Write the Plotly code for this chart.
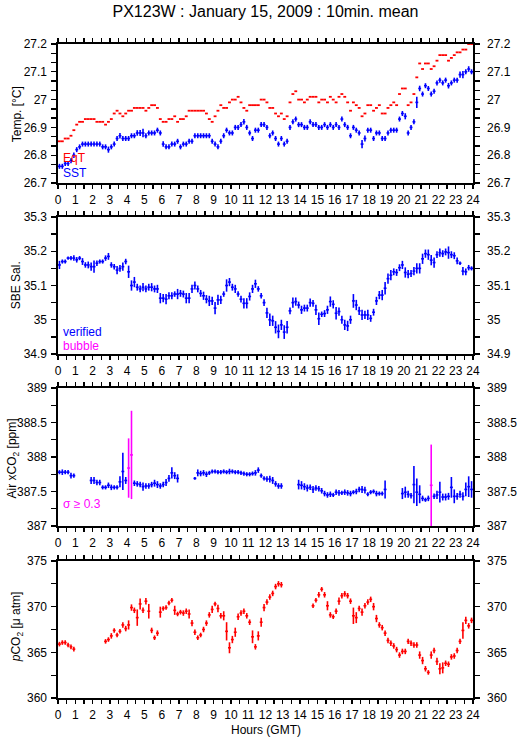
import plotly.graph_objects as go

# ---------------- data (10-minute means, 144 per day) ----------------
N = 144
hours = [(i + 0.5) / 6.0 for i in range(N)]

eqt = [26.85, 26.85, 26.86, 26.86, 26.87, 26.89, 26.91, 26.92, 26.92, 26.93,
       26.93, 26.93, 26.93, 26.92, 26.92, 26.92, 26.91, 26.92, 26.93, 26.95,
       26.96, 26.95, 26.94, 26.95, 26.96, 26.96, 26.97, 26.97, 26.97, 26.97,
       26.96, 26.97, 26.98, 26.98, 26.97, 26.93, 26.92, 26.92, 26.93, 26.93,
       26.94, 26.92, 26.93, 26.93, 26.94, 26.96, 26.96, 26.96, 26.96, 26.96,
       26.96, 26.95, 26.93, 26.92, 26.94, 26.96, 26.98, 26.97, 26.97, 26.99,
       27.00, 27.00, 27.01, 26.99, 26.97, 26.96, 26.98, 26.98, 26.98, 26.98,
       27.00, 27.00, 26.99, 26.97, 26.97, 26.95, 26.94, 26.95, 26.93, 26.94,
       26.99, 27.02, 27.03, 27.00, 27.00, 26.99, 27.00, 27.01, 27.01, 27.01,
       26.99, 27.00, 27.00, 26.99, 27.01, 27.00, 26.99, 27.01, 27.02, 27.01,
       26.99, 26.96, 26.99, 26.98, 26.97, 26.94, 26.95, 26.98, 26.98, 26.96,
       26.97, 26.98, 26.95, 26.95, 26.97, 26.98, 26.99, 26.98, 27.02, 27.04,
       27.04, 26.98, 26.99, 27.02, 27.08, 27.13, 27.11, 27.13, 27.13, 27.11,
       27.12, 27.14, 27.16, 27.16, 27.16, 27.14, 27.15, 27.16, 27.17, 27.17,
       27.18, 27.18, 27.20, 27.20]

sst = [26.76, 26.76, 26.77, 26.77, 26.78, 26.80, 26.82, 26.83, 26.84, 26.84,
       26.84, 26.84, 26.84, 26.84, 26.84, 26.83, 26.83, 26.82, 26.83, 26.84,
       26.86, 26.87, 26.86, 26.86, 26.86, 26.87, 26.87, 26.88, 26.88, 26.88,
       26.87, 26.88, 26.88, 26.88, 26.89, 26.88, 26.84, 26.83, 26.83, 26.84,
       26.84, 26.85, 26.83, 26.84, 26.84, 26.85, 26.85, 26.87, 26.87, 26.87,
       26.87, 26.87, 26.87, 26.85, 26.84, 26.83, 26.85, 26.87, 26.89, 26.88,
       26.88, 26.90, 26.90, 26.91, 26.92, 26.90, 26.88, 26.86, 26.89, 26.89,
       26.91, 26.91, 26.90, 26.87, 26.88, 26.86, 26.84, 26.86, 26.84, 26.85,
       26.90, 26.92, 26.93, 26.91, 26.91, 26.90, 26.90, 26.92, 26.91, 26.91,
       26.90, 26.90, 26.91, 26.90, 26.91, 26.90, 26.91, 26.90, 26.93, 26.91,
       26.90, 26.87, 26.90, 26.89, 26.88, 26.84, 26.86, 26.89, 26.89, 26.86,
       26.88, 26.88, 26.86, 26.86, 26.88, 26.89, 26.89, 26.89, 26.93, 26.95,
       26.94, 26.88, 26.90, 26.92, 26.99, 27.04, 27.02, 27.05, 27.04, 27.02,
       27.03, 27.06, 27.07, 27.06, 27.07, 27.05, 27.06, 27.07, 27.07, 27.09,
       27.09, 27.10, 27.11, 27.10]

sst_sd = [0.009, 0.009, 0.009, 0.009, 0.009, 0.010, 0.009, 0.009, 0.009, 0.009,
          0.009, 0.009, 0.009, 0.009, 0.009, 0.009, 0.009, 0.011, 0.009, 0.009,
          0.009, 0.010, 0.009, 0.009, 0.009, 0.009, 0.009, 0.010, 0.011, 0.015,
          0.009, 0.009, 0.009, 0.009, 0.009, 0.009, 0.010, 0.009, 0.009, 0.009,
          0.009, 0.009, 0.009, 0.009, 0.009, 0.009, 0.009, 0.009, 0.009, 0.009,
          0.009, 0.009, 0.009, 0.009, 0.009, 0.009, 0.009, 0.009, 0.009, 0.009,
          0.009, 0.009, 0.009, 0.009, 0.010, 0.009, 0.009, 0.009, 0.009, 0.009,
          0.009, 0.009, 0.009, 0.009, 0.009, 0.009, 0.009, 0.009, 0.009, 0.009,
          0.009, 0.009, 0.009, 0.009, 0.009, 0.009, 0.009, 0.009, 0.009, 0.009,
          0.009, 0.009, 0.009, 0.009, 0.009, 0.009, 0.009, 0.009, 0.009, 0.009,
          0.009, 0.009, 0.009, 0.009, 0.009, 0.015, 0.011, 0.009, 0.009, 0.009,
          0.009, 0.009, 0.009, 0.009, 0.009, 0.009, 0.009, 0.009, 0.009, 0.009,
          0.011, 0.009, 0.009, 0.009, 0.020, 0.010, 0.009, 0.009, 0.009, 0.009,
          0.009, 0.009, 0.009, 0.009, 0.009, 0.010, 0.009, 0.009, 0.009, 0.011,
          0.013, 0.009, 0.010, 0.009]

sal = [35.160, 35.170, 35.170, 35.180, 35.180, 35.180, 35.175, 35.180, 35.170, 35.160,
       35.160, 35.155, 35.155, 35.165, 35.170, 35.170, 35.180, 35.185, 35.160, 35.155,
       35.145, 35.150, 35.155, 35.170, 35.140, 35.100, 35.110, 35.095, 35.090, 35.095,
       35.090, 35.095, 35.095, 35.090, 35.090, 35.063, 35.063, 35.060, 35.070, 35.070,
       35.075, 35.075, 35.077, 35.075, 35.063, 35.063, 35.090, 35.100, 35.090, 35.077,
       35.070, 35.060, 35.055, 35.055, 35.034, 35.058, 35.058, 35.075, 35.100, 35.110,
       35.095, 35.090, 35.075, 35.060, 35.048, 35.048, 35.068, 35.090, 35.105, 35.090,
       35.070, 35.050, 35.020, 35.000, 34.997, 34.978, 34.966, 34.985, 34.964, 34.978,
       35.026, 35.050, 35.053, 35.043, 35.029, 35.034, 35.034, 35.050, 35.048, 35.029,
       35.003, 35.016, 35.018, 35.029, 35.053, 35.045, 35.019, 35.024, 35.000, 34.985,
       34.982, 35.000, 35.055, 35.043, 35.026, 35.014, 35.014, 35.014, 35.004, 35.022,
       35.055, 35.072, 35.072, 35.092, 35.120, 35.130, 35.140, 35.138, 35.152, 35.160,
       35.138, 35.133, 35.135, 35.142, 35.150, 35.150, 35.178, 35.193, 35.190, 35.174,
       35.167, 35.190, 35.196, 35.193, 35.198, 35.196, 35.190, 35.187, 35.172, 35.165,
       35.142, 35.140, 35.152, 35.150]

sal_sd = [0.012, 0.006, 0.006, 0.005, 0.006, 0.008, 0.008, 0.006, 0.010, 0.008,
          0.010, 0.012, 0.018, 0.008, 0.006, 0.006, 0.008, 0.010, 0.008, 0.008,
          0.012, 0.010, 0.012, 0.008, 0.018, 0.015, 0.015, 0.010, 0.010, 0.012,
          0.010, 0.010, 0.012, 0.010, 0.012, 0.015, 0.012, 0.015, 0.010, 0.010,
          0.008, 0.015, 0.010, 0.010, 0.015, 0.015, 0.012, 0.012, 0.010, 0.010,
          0.012, 0.012, 0.015, 0.012, 0.018, 0.015, 0.012, 0.008, 0.018, 0.012,
          0.010, 0.012, 0.008, 0.010, 0.015, 0.015, 0.012, 0.012, 0.012, 0.008,
          0.008, 0.010, 0.015, 0.018, 0.015, 0.018, 0.020, 0.015, 0.020, 0.018,
          0.010, 0.015, 0.012, 0.010, 0.012, 0.010, 0.010, 0.012, 0.010, 0.015,
          0.018, 0.008, 0.010, 0.012, 0.015, 0.012, 0.018, 0.012, 0.012, 0.015,
          0.015, 0.012, 0.020, 0.015, 0.012, 0.015, 0.012, 0.015, 0.010, 0.010,
          0.012, 0.012, 0.015, 0.018, 0.015, 0.015, 0.010, 0.010, 0.010, 0.012,
          0.015, 0.012, 0.010, 0.012, 0.015, 0.015, 0.015, 0.012, 0.015, 0.015,
          0.015, 0.010, 0.012, 0.010, 0.010, 0.018, 0.010, 0.010, 0.010, 0.005,
          0.012, 0.010, 0.008, 0.006]

G = None  # gap (standards / no data)
xco2 = [387.78, 387.78, 387.78, 387.78, 387.73, 387.73, G, G, G, G,
        G, 387.66, 387.66, 387.63, 387.63, 387.56, 387.56, 387.59, 387.56, 387.56,
        387.56, 387.64, 387.79, 387.66, 387.84, 388.03, 387.62, 387.61, 387.60, 387.57,
        387.58, 387.58, 387.60, 387.62, 387.60, 387.58, 387.60, 387.63, 387.69, 387.77,
        387.73, 387.69, G, G, G, G, G, 387.69, 387.77, 387.76,
        387.77, 387.75, 387.77, 387.79, 387.79, 387.78, 387.78, 387.79, 387.78, 387.79,
        387.79, 387.78, 387.78, 387.77, 387.76, 387.75, 387.75, 387.76, 387.77, 387.81,
        387.73, 387.69, 387.68, 387.68, 387.66, 387.61, 387.58, 387.58, G, G,
        G, G, G, 387.60, 387.59, 387.57, 387.55, 387.56, 387.53, 387.55,
        387.54, 387.51, 387.47, 387.45, 387.46, 387.45, 387.49, 387.48, 387.48, 387.49,
        387.48, 387.47, 387.49, 387.50, 387.53, 387.53, 387.52, 387.46, 387.49, 387.50,
        387.47, 387.47, 387.47, 387.53, G, G, G, G, G, 387.47,
        387.49, 387.46, 387.44, 387.60, 387.49, 387.46, 387.40, 387.38, 387.40, 387.59,
        387.43, 387.45, 387.49, 387.42, 387.42, 387.43, 387.56, 387.43, 387.43, 387.46,
        387.43, 387.53, 387.57, 387.53]

xco2_sd = [0.03, 0.04, 0.03, 0.03, 0.04, 0.03, G, G, G, G,
           G, 0.05, 0.05, 0.04, 0.04, 0.03, 0.03, 0.04, 0.04, 0.03,
           0.03, 0.08, 0.27, 0.05, 0.43, 0.64, 0.04, 0.04, 0.04, 0.06,
           0.04, 0.04, 0.04, 0.05, 0.05, 0.04, 0.04, 0.05, 0.05, 0.08,
           0.05, 0.06, G, G, G, G, G, 0.02, 0.05, 0.04,
           0.04, 0.04, 0.03, 0.03, 0.03, 0.03, 0.03, 0.03, 0.03, 0.04,
           0.03, 0.03, 0.03, 0.03, 0.03, 0.03, 0.03, 0.03, 0.04, 0.04,
           0.03, 0.03, 0.04, 0.05, 0.05, 0.04, 0.04, 0.04, G, G,
           G, G, G, 0.07, 0.06, 0.05, 0.05, 0.04, 0.05, 0.04,
           0.04, 0.04, 0.04, 0.04, 0.04, 0.03, 0.04, 0.04, 0.03, 0.04,
           0.04, 0.04, 0.03, 0.04, 0.04, 0.05, 0.05, 0.03, 0.03, 0.03,
           0.04, 0.03, 0.03, 0.13, G, G, G, G, G, 0.08,
           0.08, 0.05, 0.04, 0.27, 0.20, 0.13, 0.04, 0.03, 0.04, 0.59,
           0.04, 0.06, 0.15, 0.05, 0.05, 0.05, 0.15, 0.10, 0.05, 0.05,
           0.06, 0.10, 0.15, 0.12]

pco2 = [365.90, 366.07, 366.07, 365.80, 365.60, 365.35, G, G, G, G,
        G, G, G, G, G, G, 366.2, 366.4, 366.8, 367.4,
        366.9, 367.3, 368.0, 367.6, 368.0, 369.9, 369.6, 368.8, 370.3, 369.6,
        370.6, 369.5, 367.4, 366.6, 367.1, 369.4, 369.8, 369.9, 370.4, 370.7,
        369.6, 369.2, 369.4, 369.3, 369.5, 369.2, 368.2, 367.2, 366.6, 366.9,
        367.5, 368.2, 369.1, 369.7, 370.3, 369.8, 369.0, 369.0, 367.3, 365.5,
        366.4, 367.2, 368.9, 369.3, 369.5, 369.0, 368.3, 366.7, 365.6, 366.8,
        368.3, 369.9, 370.5, 371.05, 371.45, 372.2, 372.5, 372.4, G, G,
        G, G, G, G, G, G, G, G, 370.1, 370.7,
        371.3, 371.9, 371.3, 370.1, 369.1, 368.9, 369.5, 370.6, 371.2, 371.4,
        371.2, 370.6, 369.0, 368.8, 369.8, 369.4, 370.1, 370.5, 370.8, 370.0,
        368.7, 368.0, 367.7, 367.1, 366.3, 366.0, 365.7, 365.3, 364.7, 365.1,
        365.1, 366.2, 366.0, 365.8, 365.8, 364.7, 364.1, 363.2, 362.8, 364.7,
        365.2, 364.0, 363.2, 363.3, 363.8, 363.7, 364.5, 364.6, 365.2, 366.2,
        367.4, 368.5, 367.9, 368.5]

pco2_sd = [0.25, 0.25, 0.25, 0.25, 0.25, 0.25, G, G, G, G,
           G, G, G, G, G, G, 0.25, 0.25, 0.3, 0.25,
           0.25, 0.25, 0.3, 0.3, 0.5, 0.35, 0.3, 0.9, 0.6, 0.3,
           0.35, 0.8, 0.3, 0.25, 0.3, 0.6, 0.25, 0.25, 0.25, 0.25,
           0.5, 0.25, 0.25, 0.3, 0.3, 0.5, 0.35, 0.3, 0.25, 0.25,
           0.3, 0.3, 0.3, 0.4, 0.25, 0.4, 0.3, 0.5, 1.0, 0.6,
           0.4, 0.5, 0.35, 0.3, 0.3, 0.3, 0.3, 0.7, 0.3, 0.5,
           0.5, 0.4, 0.3, 0.3, 0.3, 0.3, 0.3, 0.3, G, G,
           G, G, G, G, G, G, G, G, 0.25, 0.25,
           0.3, 0.25, 0.3, 0.5, 0.3, 0.25, 0.3, 0.4, 0.3, 0.3,
           0.3, 0.3, 0.9, 0.6, 0.3, 0.4, 0.3, 0.3, 0.3, 0.4,
           0.4, 0.3, 0.3, 0.3, 0.3, 0.3, 0.3, 0.3, 0.3, 0.3,
           0.3, 0.3, 0.3, 0.3, 0.3, 0.4, 0.4, 0.3, 0.25, 0.4,
           0.3, 0.4, 0.6, 0.6, 0.3, 0.3, 0.3, 0.3, 0.3, 0.3,
           0.9, 0.4, 0.3, 0.3]

SIGMA_LIMIT = 0.3
x_ticks = list(range(0, 25))

# ---------------- styling ----------------
BLUE = "#0000ff"
RED = "#ff0000"
MAGENTA = "#ff00ff"
FONT = "Liberation Sans, Arial, Helvetica, sans-serif"
W, H = 529, 739
L, R, T, B = 58, 43, 44, 41
PW, PH = W - L - R, H - T - B


def ydom(top_px, bot_px):   # page pixel coords -> paper domain
    return [(H - B - bot_px) / PH, (H - B - top_px) / PH]


def px_x(px):
    return (px - L) / PW


def px_y(py):
    return (H - B - py) / PH


panels = [
    dict(dom=ydom(44, 183), rng=[26.7, 27.2], dt=0.1, mdt=0.1 / 3),
    dict(dom=ydom(217, 354), rng=[34.9, 35.3], dt=0.1, mdt=0.05),
    dict(dom=ydom(388, 526), rng=[387, 389], dt=0.5, mdt=0.25),
    dict(dom=ydom(561, 698), rng=[360, 375], dt=5, mdt=2.5),
]

HALF = 1.0 / 12.0  # half of the 10-min averaging interval
fig = go.Figure()


def add_bars(x, y, sd, color, n, show_y=True, thick=1.6):
    ex = dict(type="constant", value=HALF, width=0, thickness=thick, color=color)
    kw = dict(x=x, y=y, mode="markers", marker=dict(size=4, color=color, opacity=0),
              error_x=ex, showlegend=False, hoverinfo="skip",
              xaxis="x" if n == 1 else f"x{n}", yaxis="y" if n == 1 else f"y{n}")
    if show_y:
        kw["error_y"] = dict(type="data", array=sd, width=0, thickness=thick, color=color)
    fig.add_trace(go.Scatter(**kw))


# panel 1
add_bars(hours, eqt, None, RED, 1, show_y=False, thick=1.8)
add_bars(hours, sst, sst_sd, BLUE, 1)
# panel 2
add_bars(hours, sal, sal_sd, BLUE, 2)
# panel 3 (split by sigma)
xb = [v if (v is not None and s < SIGMA_LIMIT) else None for v, s in zip(xco2, xco2_sd)]
xm = [v if (v is not None and s >= SIGMA_LIMIT) else None for v, s in zip(xco2, xco2_sd)]
add_bars(hours, xb, xco2_sd, BLUE, 3)
add_bars(hours, xm, xco2_sd, MAGENTA, 3)
# panel 4
add_bars(hours, pco2, pco2_sd, RED, 4)

tickfont = dict(family=FONT, size=12, color="black")
layout = dict(
    width=W, height=H,
    margin=dict(l=L, r=R, t=T, b=B, pad=0),
    paper_bgcolor="white", plot_bgcolor="white",
    font=dict(family=FONT, color="black", size=12),
    showlegend=False,
    title=dict(text="PX123W : January 15, 2009 : 10min. mean",
               x=265.5 / W, xanchor="center", y=1 - 11 / H, yanchor="middle",
               xref="container", yref="container",
               font=dict(family=FONT, size=16, color="black")),
)

for k, p in enumerate(panels, start=1):
    xs = "xaxis" if k == 1 else f"xaxis{k}"
    ys = "yaxis" if k == 1 else f"yaxis{k}"
    yname = "y" if k == 1 else f"y{k}"
    xname = "x" if k == 1 else f"x{k}"
    layout[xs] = dict(
        domain=[0, 1], anchor=yname, range=[0, 24],
        tickmode="array", tickvals=x_ticks, ticktext=[str(v) for v in x_ticks],
        ticks="outside", ticklen=4, tickwidth=1.3, tickcolor="black",
        minor=dict(dtick=0.5, tick0=0, ticks="outside", ticklen=4, tickwidth=1.3, tickcolor="black"),
        showline=True, linecolor="black", linewidth=1.6, mirror="ticks",
        showgrid=False, zeroline=False, tickfont=tickfont, ticklabelstandoff=1,
    )
    common_y = dict(
        domain=p["dom"], range=p["rng"], tick0=p["rng"][0], dtick=p["dt"],
        ticks="outside", ticklen=5, tickwidth=1.3, tickcolor="black",
        minor=dict(dtick=p["mdt"], tick0=p["rng"][0], ticks="outside", ticklen=5,
                   tickwidth=1.3, tickcolor="black"),
        showgrid=False, zeroline=False, tickfont=tickfont,
    )
    layout[ys] = dict(common_y, anchor=xname, showline=True, linecolor="black",
                      linewidth=1.6, mirror=True, ticklabelstandoff=2)
    rk = k + 4
    layout[f"yaxis{rk}"] = dict(common_y, anchor=xname, overlaying=yname, side="right",
                                showline=True, linecolor="black", linewidth=1.6,
                                ticklabelstandoff=5)
    fig.add_trace(go.Scatter(x=[None], y=[None], xaxis=xname, yaxis=f"y{rk}",
                             showlegend=False, hoverinfo="skip", mode="markers"))

fig.update_layout(**layout)

ann = []
ytitles = [("Temp. [°C]", 16, 114), ("SBE Sal.", 15, 285),
           ("Air xCO<sub>2</sub> [ppm]", 12, 458), ("<i>p</i>CO<sub>2</sub> [μ atm]", 16, 627)]
for txt, xp, yp in ytitles:
    ann.append(dict(text=txt, x=px_x(xp), y=px_y(yp), xref="paper", yref="paper",
                    textangle=-90, showarrow=False, xanchor="center", yanchor="middle",
                    font=dict(family=FONT, size=12, color="black")))
labels = [("EqT", RED, 158), ("SST", BLUE, 173), ("verified", BLUE, 332),
          ("bubble", MAGENTA, 346), ("σ ≥ 0.3", MAGENTA, 504)]
for txt, col, yp in labels:
    ann.append(dict(text=txt, x=px_x(61), y=px_y(yp), xref="paper", yref="paper",
                    showarrow=False, xanchor="left", yanchor="middle",
                    font=dict(family=FONT, size=12, color=col)))
ann.append(dict(text="Hours (GMT)", x=px_x(272), y=px_y(730), xref="paper", yref="paper",
                showarrow=False, xanchor="center", yanchor="middle",
                font=dict(family=FONT, size=12, color="black")))
fig.update_layout(annotations=ann)

# remove the browser's default 8px body margin so the figure sits at (0,0)
fig.write_html("out.html", config={"displayModeBar": False, "staticPlot": True},
               post_script="document.body.style.margin='0px';")
